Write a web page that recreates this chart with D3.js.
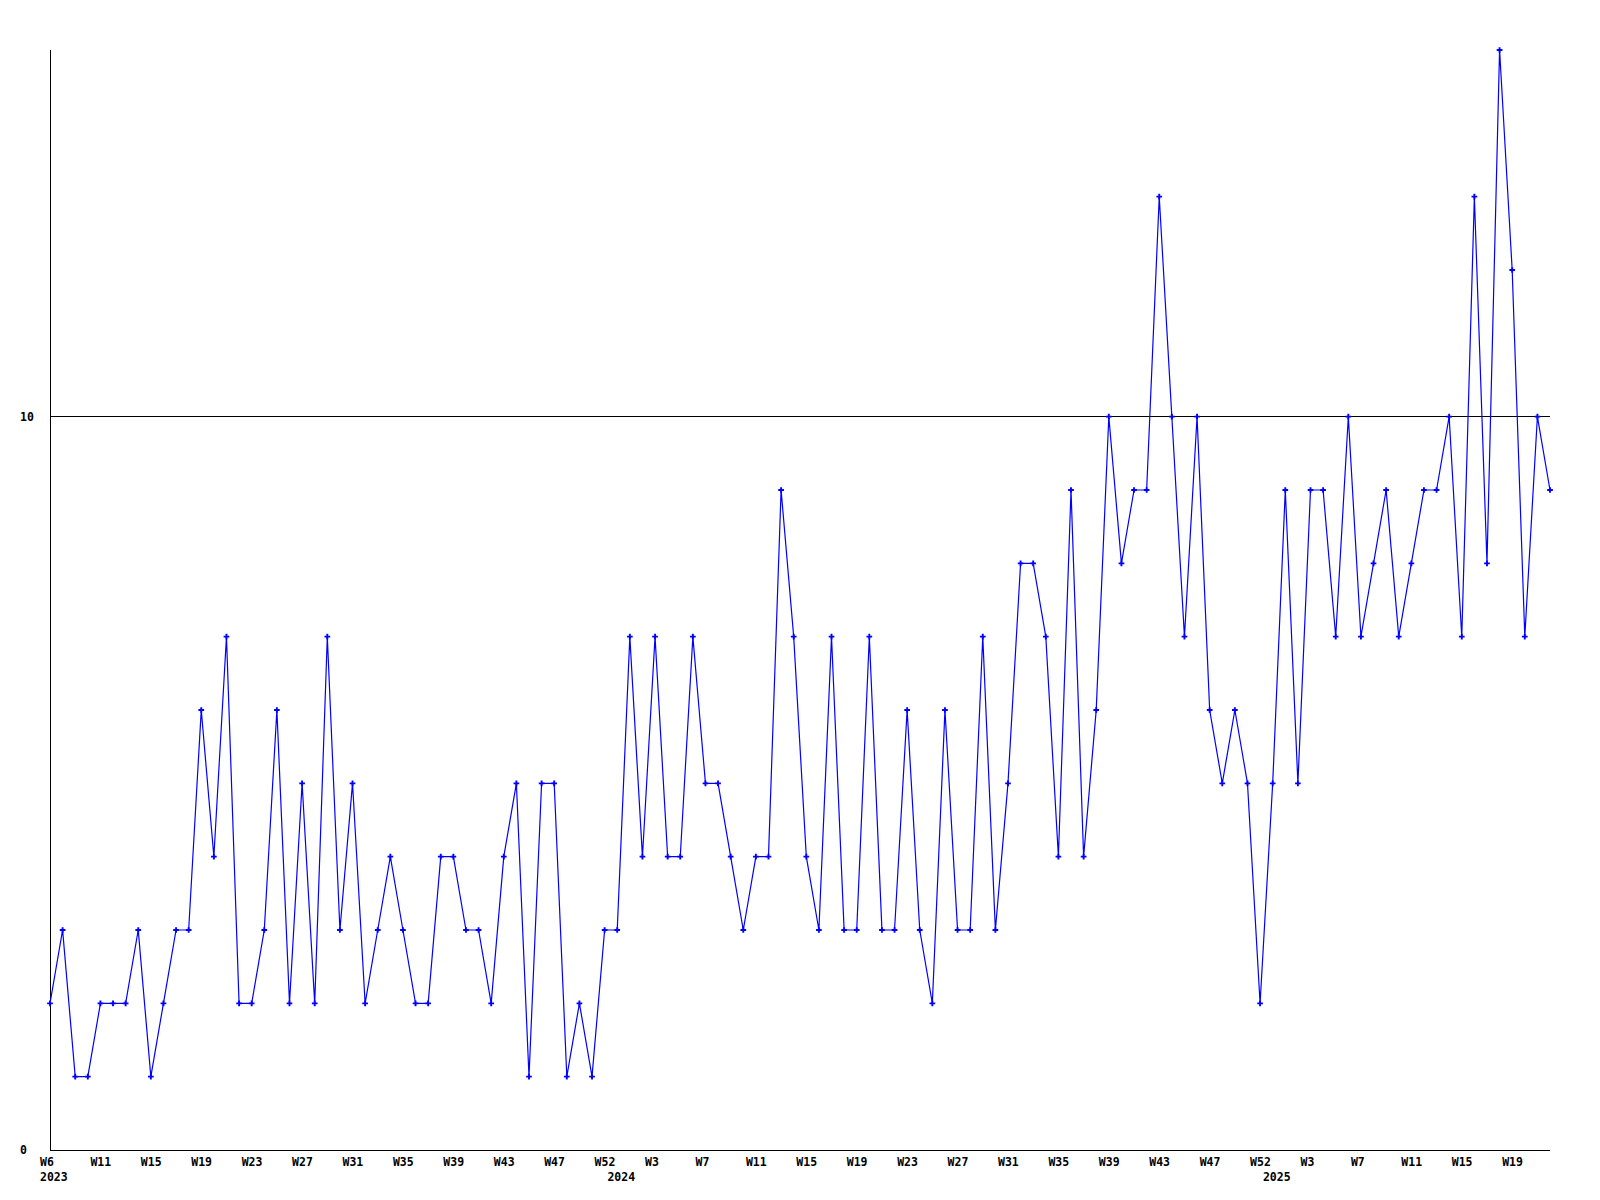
<!DOCTYPE html>
<html>
<head>
<meta charset="utf-8">
<script src="https://cdn.jsdelivr.net/npm/d3@7"></script>
<style>
  html, body { margin: 0; padding: 0; background: #ffffff; }
  svg { display: block; }
  text { font-family: "DejaVu Sans Mono", "Liberation Mono", monospace; font-weight: bold; font-size: 11.5px; fill: #000; }
</style>
</head>
<body>
<script>
// Weekly counts, 2023 W6 .. 2025 W21
const values = [
  2,3,1,1,2,2,2,3,1,2,3,3,6,4,7,2,
  2,3,6,2,5,2,7,3,5,2,3,4,3,2,2,
  4,4,3,3,2,4,5,1,5,5,1,2,1,3,3,
  7,4,7,4,4,7,5,5,4,3,4,4,9,7,4,
  3,7,3,3,7,3,3,6,3,2,6,3,3,7,3,
  5,8,8,7,4,9,4,6,10,8,9,9,13,10,7,
  10,6,5,6,5,2,5,9,5,9,9,7,10,7,8,
  9,7,8,9,9,10,7,13,8,15,12,7,10,9
];
// week labels, one every 4 data points
const weekLabels = ["W6","W11","W15","W19","W23","W27","W31","W35","W39","W43","W47","W52",
  "W3","W7","W11","W15","W19","W23","W27","W31","W35","W39","W43","W47","W52",
  "W3","W7","W11","W15","W19"];
const yearLabels = ["2023","2024","2025"];
const yearStartIndex = [0, 47, 99];
const yTicks = [0, 10];

const W = 1600, H = 1200;
const svg = d3.select("body").append("svg").attr("width", W).attr("height", H);

const x = d3.scaleLinear().domain([0, values.length - 1]).range([50, 1550]);
const y = d3.scaleLinear().domain([0, 15]).range([1150, 50]);

// axes lines
svg.append("line").attr("x1", x(0)).attr("x2", x(0)).attr("y1", y(15)).attr("y2", y(0))
  .attr("stroke", "#000").attr("shape-rendering", "crispEdges");
svg.append("line").attr("x1", x(0)).attr("x2", x(values.length - 1)).attr("y1", y(0)).attr("y2", y(0))
  .attr("stroke", "#000").attr("shape-rendering", "crispEdges");
// reference line at 10
svg.append("line").attr("x1", x(0)).attr("x2", x(values.length - 1)).attr("y1", y(10)).attr("y2", y(10))
  .attr("stroke", "#000").attr("shape-rendering", "crispEdges");

// y tick labels
svg.selectAll(".ylab").data(yTicks).enter().append("text")
  .attr("x", 20).attr("y", d => y(d)).attr("dy", "0.35em").text(d => d);

// week labels
svg.selectAll(".wlab").data(weekLabels).enter().append("text")
  .attr("x", (d, k) => x(4 * k) - 10).attr("y", 1162).attr("dy", "0.35em").text(d => d);

// year labels
svg.selectAll(".yrlab").data(yearLabels).enter().append("text")
  .attr("x", (d, k) => Math.max(40, x(yearStartIndex[k]) - 35)).attr("y", 1177).attr("dy", "0.35em").text(d => d);

// line
const line = d3.line().x((d, i) => x(i)).y(d => y(d));
svg.append("path").datum(values).attr("d", line)
  .attr("fill", "none").attr("stroke", "#0000ff").attr("stroke-width", 1.2);

// markers
const sym = d3.symbol().type(d3.symbolCross).size(18);
svg.selectAll(".mk").data(values).enter().append("path")
  .attr("d", sym).attr("transform", (d, i) => `translate(${x(i)},${y(d)})`)
  .attr("fill", "#0000ff");
</script>
</body>
</html>
